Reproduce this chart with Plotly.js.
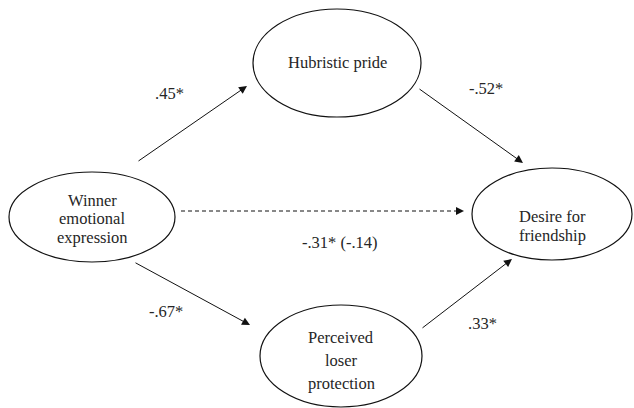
<!DOCTYPE html>
<html>
<head>
<meta charset="utf-8">
<script src="https://cdn.plot.ly/plotly-3.0.1.min.js"></script>
<style>
html,body{margin:0;padding:0;background:#fff;}
#chart{width:634px;height:408px;}
#chart svg text{font-family:"Liberation Serif","Times New Roman",Times,"DejaVu Serif",serif !important;}
</style>
</head>
<body>
<div id="chart"></div>
<script>
// ---- data ----
const nodeNames = ["Winner emotional expression", "Hubristic pride", "Perceived loser protection", "Desire for friendship"];
const nodeLabelLines = [["Winner", "emotional", "expression"], ["Hubristic pride"], ["Perceived", "loser", "protection"], ["Desire for", "friendship"]];
const pathFrom = [0, 1, 0, 0, 2];
const pathTo = [1, 3, 3, 2, 3];
const pathCoefficients = [".45*", "-.52*", "-.31* (-.14)", "-.67*", ".33*"];
const pathDashed = [false, false, true, false, false];

// ---- geometry (layout only) ----
const nodeBox = [
  {cx: 92, cy: 217, rx: 83, ry: 45, lineY: [200, 218.5, 237]},
  {cx: 337, cy: 63, rx: 84, ry: 54, lineY: [62]},
  {cx: 341, cy: 356, rx: 81, ry: 51, lineY: [337, 360, 383]},
  {cx: 552, cy: 214, rx: 80, ry: 46, lineY: [216, 235]}
];
const pathGeom = [
  {x0: 137, y0: 162, x1: 247, y1: 86, lx: 169, ly: 93},
  {x0: 418, y0: 88, x1: 523, y1: 163, lx: 486, ly: 88},
  {x0: 181, y0: 211, x1: 464, y1: 211, lx: 340, ly: 242},
  {x0: 134, y0: 262, x1: 250, y1: 325, lx: 166, ly: 311},
  {x0: 421, y0: 329, x1: 512, y1: 259, lx: 482, ly: 323}
];

const fam = "Liberation Serif, Times New Roman, Times, DejaVu Serif, serif";
const font = {family: fam, size: 16.5, color: "#262626"};
const shapes = [];
const annotations = [];

nodeBox.forEach((b, i) => {
  shapes.push({type: "circle", xref: "x", yref: "y",
    x0: b.cx - b.rx, x1: b.cx + b.rx, y0: b.cy - b.ry, y1: b.cy + b.ry,
    line: {color: "#111", width: 1.2}, fillcolor: "rgba(0,0,0,0)"});
  nodeLabelLines[i].forEach((t, j) => {
    annotations.push({x: b.cx, y: b.lineY[j], xref: "x", yref: "y", text: t,
      showarrow: false, font: Object.assign({}, font), align: "center"});
  });
});

pathCoefficients.forEach((c, i) => {
  const g = pathGeom[i];
  if (pathDashed[i]) {
    shapes.push({type: "line", xref: "x", yref: "y", x0: g.x0, y0: g.y0, x1: g.x1 - 6, y1: g.y1,
      line: {color: "#111", width: 1, dash: "4px,3px"}});
    annotations.push({x: g.x1, y: g.y1, ax: g.x1 - 8, ay: g.y1, xref: "x", yref: "y",
      axref: "x", ayref: "y", text: "", showarrow: true, arrowhead: 2, arrowsize: 1.6,
      arrowwidth: 1, arrowcolor: "#111", standoff: 0, startstandoff: 0});
  } else {
    annotations.push({x: g.x1, y: g.y1, ax: g.x0, ay: g.y0, xref: "x", yref: "y",
      axref: "x", ayref: "y", text: "", showarrow: true, arrowhead: 2, arrowsize: 1.6,
      arrowwidth: 1, arrowcolor: "#111", standoff: 0, startstandoff: 0});
  }
  annotations.push({x: g.lx, y: g.ly, xref: "x", yref: "y", text: c, showarrow: false,
    font: Object.assign({}, font)});
});

const layout = {
  width: 634, height: 408,
  margin: {l: 0, r: 0, t: 0, b: 0},
  font: {family: fam, size: 16.5, color: "#262626"},
  paper_bgcolor: "#fff", plot_bgcolor: "#fff",
  xaxis: {range: [0, 634], visible: false, fixedrange: true},
  yaxis: {range: [408, 0], visible: false, fixedrange: true},
  showlegend: false,
  shapes: shapes,
  annotations: annotations
};

Plotly.newPlot("chart", [{x: [], y: [], type: "scatter", mode: "markers", name: nodeNames.join(", ")}], layout, {staticPlot: true});
</script>
</body>
</html>
